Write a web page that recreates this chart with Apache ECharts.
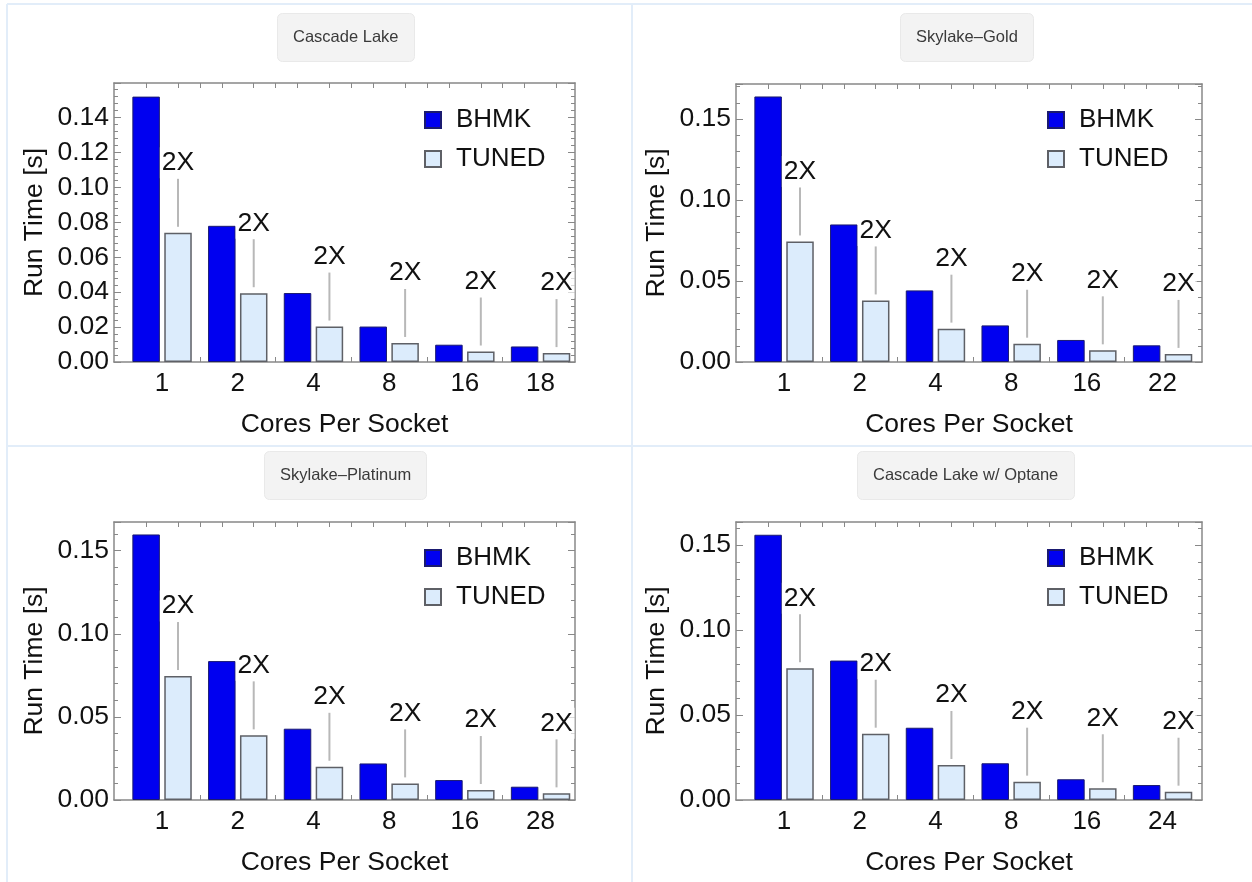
<!DOCTYPE html>
<html>
<head>
<meta charset="utf-8">
<script src="https://cdn.jsdelivr.net/npm/echarts@6/dist/echarts.min.js"></script>
<style>
html,body{margin:0;padding:0;background:#fff;}
#chart{width:1252px;height:882px;}
</style>
</head>
<body>
<div id="chart"></div>
<script>
// ---------------- data ----------------
const seriesNames = ['BHMK', 'TUNED'];
const annotationText = '2X';

const titles = ['Cascade Lake', 'Skylake–Gold', 'Skylake–Platinum', 'Cascade Lake w/ Optane'];

const coresCascade = ['1', '2', '4', '8', '16', '18'];
const bhmkCascade  = [0.152, 0.078, 0.0395, 0.0203, 0.0099, 0.0089];
const tunedCascade = [0.074, 0.0394, 0.0203, 0.0109, 0.0060, 0.0051];

const coresGold = ['1', '2', '4', '8', '16', '22'];
const bhmkGold  = [0.1639, 0.0849, 0.0442, 0.0226, 0.0136, 0.0103];
const tunedGold = [0.0744, 0.0380, 0.0206, 0.0113, 0.0072, 0.0050];

const coresPlatinum = ['1', '2', '4', '8', '16', '28'];
const bhmkPlatinum  = [0.1598, 0.0836, 0.0429, 0.0220, 0.0120, 0.0080];
const tunedPlatinum = [0.0746, 0.0389, 0.0200, 0.0100, 0.0060, 0.0040];

const coresOptane = ['1', '2', '4', '8', '16', '24'];
const bhmkOptane  = [0.156, 0.082, 0.0425, 0.0216, 0.0122, 0.0088];
const tunedOptane = [0.0775, 0.0390, 0.0206, 0.0108, 0.0069, 0.0049];

// y axis settings (tick step, upper plot limit)
const yIntervals = [0.02, 0.05, 0.05, 0.05];
const yMaxes = [0.1598, 0.1716, 0.1673, 0.1635];

const xAxisTitle = 'Cores Per Socket';
const yAxisTitle = 'Run Time [s]';

// ---------------- layout / style ----------------
const FONT = '"Liberation Sans", Arial, Helvetica, sans-serif';
const FRAME = '#888888';
const BAR_W = 27.5;
const BAR_GAP_PX = 4.4;
const PX_PER_UNIT = 75.7;
const X_MIN = -0.635;

const panels = [
  {title: titles[0], cats: coresCascade, bhmk: bhmkCascade, tuned: tunedCascade,
   grid: {left: 114, top: 83, width: 461, height: 279}, titleLeft: 277, titleTop: 13, legendLeft: 424, legendTop: 107},
  {title: titles[1], cats: coresGold, bhmk: bhmkGold, tuned: tunedGold,
   grid: {left: 736, top: 84, width: 466, height: 278}, titleLeft: 900, titleTop: 13, legendLeft: 1047, legendTop: 107},
  {title: titles[2], cats: coresPlatinum, bhmk: bhmkPlatinum, tuned: tunedPlatinum,
   grid: {left: 114, top: 522, width: 461, height: 278}, titleLeft: 264, titleTop: 451, legendLeft: 424, legendTop: 545},
  {title: titles[3], cats: coresOptane, bhmk: bhmkOptane, tuned: tunedOptane,
   grid: {left: 736, top: 522, width: 466, height: 278}, titleLeft: 857, titleTop: 451, legendLeft: 1047, legendTop: 545}
];

const barOffsetUnits = (BAR_W + BAR_GAP_PX) / 2 / PX_PER_UNIT;

const option = {
  backgroundColor: '#ffffff',
  animation: false,
  title: [], legend: [], grid: [], xAxis: [], yAxis: [], series: [],
  graphic: [
    {type: 'line', shape: {x1: 7, y1: 4, x2: 1252, y2: 4}, style: {stroke: '#e2edf9', lineWidth: 2}},
    {type: 'line', shape: {x1: 7, y1: 446, x2: 1252, y2: 446}, style: {stroke: '#e2edf9', lineWidth: 2}},
    {type: 'line', shape: {x1: 7, y1: 4, x2: 7, y2: 882}, style: {stroke: '#e2edf9', lineWidth: 2}},
    {type: 'line', shape: {x1: 632, y1: 4, x2: 632, y2: 882}, style: {stroke: '#e2edf9', lineWidth: 2}}
  ]
};

panels.forEach(function (p, k) {
  const n = p.cats.length;
  const xMax = X_MIN + p.grid.width / PX_PER_UNIT;
  const idx = p.cats.map(function (_, i) { return i; });
  const tickVals = [];
  idx.forEach(function (i) {
    tickVals.push(i - barOffsetUnits, i + barOffsetUnits);
    if (i < n - 1) tickVals.push(i + 0.5);
  });

  option.title.push({
    text: p.title, left: p.titleLeft, top: p.titleTop,
    padding: [16, 16], backgroundColor: '#f3f3f3', borderRadius: 5,
    borderColor: '#e9e9e9', borderWidth: 1,
    textStyle: {fontFamily: FONT, fontSize: 16.5, fontWeight: 'normal', color: '#3a3a3a', lineHeight: 17}
  });

  option.legend.push({
    data: seriesNames, orient: 'vertical', left: p.legendLeft, top: p.legendTop,
    padding: 0, itemWidth: 16, itemHeight: 16, itemGap: 13, icon: 'rect',
    selectedMode: false,
    textStyle: {fontFamily: FONT, fontSize: 26, color: '#111', lineHeight: 26, padding: [0, 0, 0, 10]}
  });

  option.grid.push(Object.assign({containLabel: false}, p.grid));

  const xBase = {
    type: 'value', gridIndex: k, min: X_MIN, max: xMax,
    splitLine: {show: false},
    axisLine: {show: true, onZero: false, lineStyle: {color: FRAME, width: 1.5}},
    axisTick: {show: true, inside: true, length: 5, customValues: tickVals, lineStyle: {color: FRAME, width: 1}}
  };
  option.xAxis.push(Object.assign({}, xBase, {
    position: 'bottom',
    name: xAxisTitle, nameLocation: 'middle', nameGap: 49,
    nameTextStyle: {fontFamily: FONT, fontSize: 26.5, color: '#111'},
    axisLabel: {show: true, customValues: idx, margin: 9, fontFamily: FONT, fontSize: 26, color: '#111',
      formatter: function (v) { return p.cats[Math.round(v)]; }}
  }));
  option.xAxis.push(Object.assign({}, xBase, {position: 'top', axisLabel: {show: false}}));

  const yBase = {
    type: 'value', gridIndex: k, min: 0, max: yMaxes[k], interval: yIntervals[k],
    splitLine: {show: false},
    axisLine: {show: true, onZero: false, lineStyle: {color: FRAME, width: 1.5}},
    axisTick: {show: true, inside: true, length: 7, lineStyle: {color: FRAME, width: 1}},
    minorTick: {show: true, splitNumber: 5, length: 4, lineStyle: {color: FRAME, width: 1}}
  };
  option.yAxis.push(Object.assign({}, yBase, {
    position: 'left',
    name: yAxisTitle, nameLocation: 'middle', nameGap: 66, nameRotate: 90,
    nameTextStyle: {fontFamily: FONT, fontSize: 26.5, color: '#111'},
    axisLabel: {show: true, margin: 5, showMaxLabel: false, fontFamily: FONT, fontSize: 26.5, color: '#111',
      formatter: function (v) { return v.toFixed(2); }}
  }));
  option.yAxis.push(Object.assign({}, yBase, {position: 'right', axisLabel: {show: false}}));

  const xi = 2 * k, yi = 2 * k;
  option.series.push({
    name: seriesNames[0], type: 'bar', xAxisIndex: xi, yAxisIndex: yi,
    barWidth: BAR_W, barGap: (BAR_GAP_PX / BAR_W * 100) + '%',
    itemStyle: {color: '#0000f0', borderColor: '#1a1a70', borderWidth: 1},
    data: p.bhmk.map(function (v, i) { return [i, v]; })
  });
  option.series.push({
    name: seriesNames[1], type: 'bar', xAxisIndex: xi, yAxisIndex: yi,
    barWidth: BAR_W, barGap: (BAR_GAP_PX / BAR_W * 100) + '%',
    itemStyle: {color: '#dcecfc', borderColor: '#5e6066', borderWidth: 1.5},
    data: p.tuned.map(function (v, i) { return [i, v]; })
  });
  option.series.push({
    name: 'ratio', type: 'custom', xAxisIndex: xi, yAxisIndex: yi, z: 5,
    data: p.tuned.map(function (v, i) { return [i, v]; }),
    renderItem: function (params, api) {
      const pt = api.coord([api.value(0) + barOffsetUnits, api.value(1)]);
      return {
        type: 'group',
        children: [
          {type: 'line', shape: {x1: pt[0], y1: pt[1] - 6, x2: pt[0], y2: pt[1] - 54},
           style: {stroke: '#b8b8b8', lineWidth: 2}},
          {type: 'text', style: {text: annotationText, x: pt[0], y: pt[1] - 70,
            align: 'center', verticalAlign: 'middle', textAlign: 'center', textVerticalAlign: 'middle',
            fontFamily: FONT, fontSize: 26.5, fill: '#111',
            backgroundColor: 'rgba(255,255,255,0.7)', padding: [2, 2]}}
        ]
      };
    }
  });
});

const chart = echarts.init(document.getElementById('chart'), null, {renderer: 'canvas'});
chart.setOption(option);
</script>
</body>
</html>
